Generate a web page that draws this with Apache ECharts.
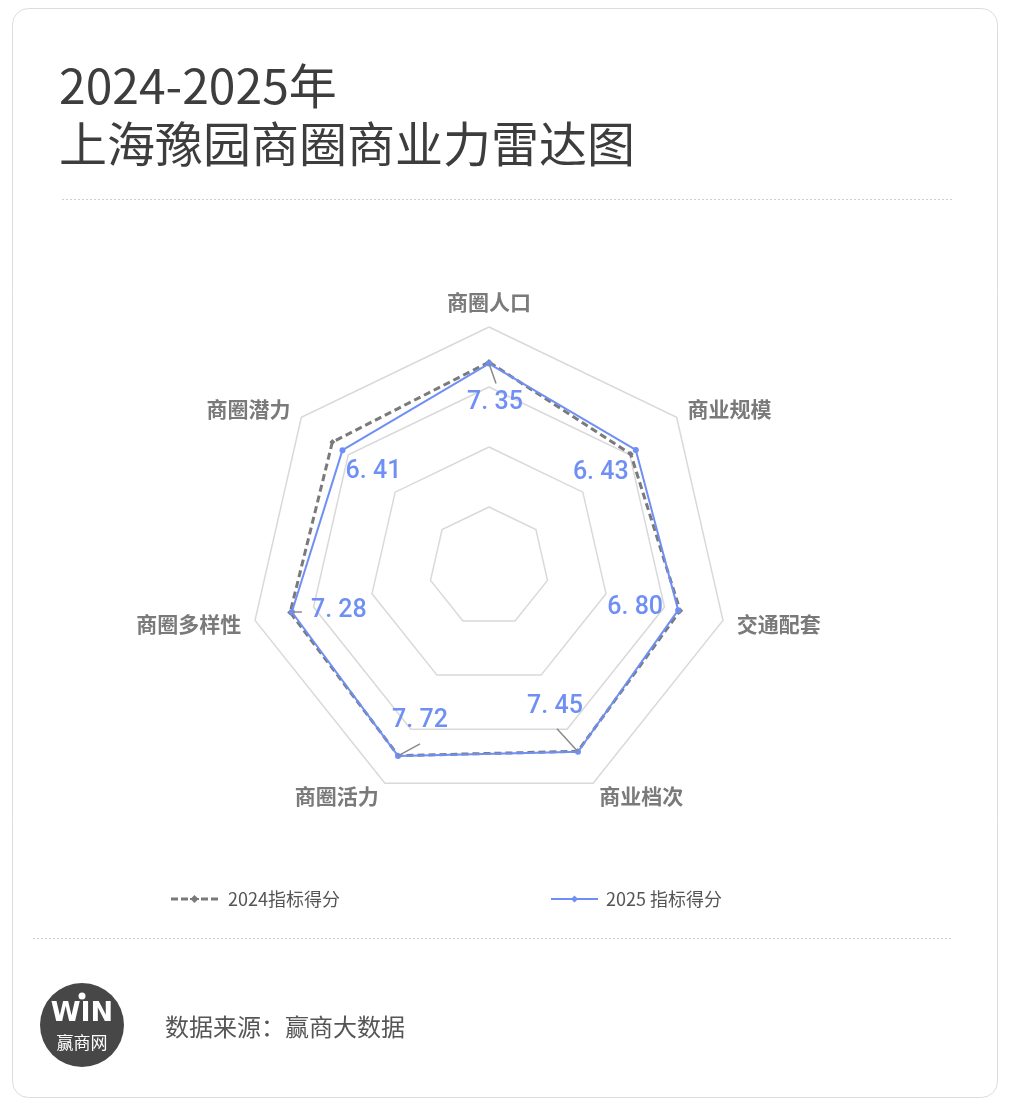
<!DOCTYPE html>
<html>
<head>
<meta charset="utf-8">
<script src="https://cdn.jsdelivr.net/npm/echarts@6/dist/echarts.min.js"></script>
<style>
html,body{margin:0;padding:0;background:#fff;}
#chart{width:1010px;height:1116px;}
</style>
</head>
<body>
<div id="chart"></div>
<script>
// ---- data (clockwise order starting from the top) ----
const categories = ['商圈人口', '商业规模', '交通配套', '商业档次', '商圈活力', '商圈多样性', '商圈潜力'];
const values2024 = [7.44, 6.05, 6.92, 7.42, 7.70, 7.38, 7.17];
const values2025 = [7.35, 6.43, 6.80, 7.45, 7.72, 7.28, 6.41];
const seriesNames = ['2024指标得分', '2025 指标得分'];
const titleText = '2024-2025年\n上海豫园商圈商业力雷达图';
const sourceText = '数据来源：赢商大数据';

// ---- scale & styling ----
const RMIN = -4.6, RMAX = 9.5;
const CENTER = [489, 567], RADIUS = 240;
const BLUE = '#6f8ff5', GRAY = '#7a7a7a';
// label offsets (px) relative to each 2025 point, and leader-line ends
const labelOffsets = [[6, 39], [-35, 23], [-43, -2], [-23, -45], [22, -35], [47, -1], [31, 22]];
const leaderEnds = [[7, 20], null, null, [-21, -23], [22, -12], [10, 0], null];

// ECharts radar lays indicators out counter-clockwise: reorder
const n = categories.length;
const ccw = [0].concat(Array.from({length: n - 1}, (_, k) => n - 1 - k));
const indicator = ccw.map(i => ({name: categories[i], min: RMIN, max: RMAX}));
const reorder = arr => ccw.map(i => arr[i]);

const fmt = v => v.toFixed(2).replace('.', '. ');

const dashIcon = 'path://M0 2.5h7v3h-7z M10 2.5h7v3h-7z M30 2.5h7v3h-7z M40 2.5h7v3h-7z M19 3h9v2h-9z M23.5 0L27.5 4L23.5 8L19.5 4z';
const solidIcon = 'path://M0 3h47v2h-47z M23.5 0.5L27 4L23.5 7.5L20 4z';

const chart = echarts.init(document.getElementById('chart'));
chart.setOption({
  backgroundColor: '#fff',
  animation: false,
  title: {
    text: titleText,
    left: 54, top: 52,
    textStyle: {fontSize: 48, lineHeight: 58, fontWeight: 'normal', color: '#3d3d3d', fontFamily: 'Noto Sans CJK SC'}
  },
  legend: [
    {
      data: [{name: seriesNames[0], icon: dashIcon}],
      left: 171, top: 890, padding: 0, itemWidth: 47, itemHeight: 8, itemGap: 0,
      textStyle: {fontSize: 18, color: '#555', fontFamily: 'Noto Sans CJK SC', padding: [0, 0, 0, 5]}
    },
    {
      data: [{name: seriesNames[1], icon: solidIcon}],
      left: 551, top: 890, padding: 0, itemWidth: 47, itemHeight: 8, itemGap: 0,
      textStyle: {fontSize: 18, color: '#555', fontFamily: 'Noto Sans CJK SC', padding: [0, 0, 0, 3]}
    }
  ],
  radar: {
    center: CENTER, radius: RADIUS, startAngle: 90, shape: 'polygon', splitNumber: 4,
    indicator: indicator,
    nameGap: 14,
    axisName: {color: GRAY, fontSize: 21, fontWeight: 'bold', fontFamily: 'Noto Sans CJK SC'},
    splitLine: {lineStyle: {color: '#d9d9d9', width: 1.5}},
    splitArea: {show: false},
    axisLine: {show: false},
    axisTick: {show: false},
    axisLabel: {show: false}
  },
  polar: {center: CENTER, radius: RADIUS},
  radiusAxis: {min: RMIN, max: RMAX, show: false, axisLine: {show: false}, splitLine: {show: false}, axisLabel: {show: false}, axisTick: {show: false}},
  angleAxis: {type: 'value', min: 0, max: n, startAngle: 90, clockwise: true, show: false, axisLine: {show: false}, splitLine: {show: false}, axisLabel: {show: false}, axisTick: {show: false}},
  series: [
    {
      type: 'radar', name: seriesNames[0], z: 2,
      symbol: 'diamond', symbolSize: 6,
      itemStyle: {color: GRAY},
      lineStyle: {color: GRAY, width: 3, type: [7, 4]},
      data: [{name: seriesNames[0], value: reorder(values2024)}]
    },
    {
      type: 'radar', name: seriesNames[1], z: 3,
      symbol: 'circle', symbolSize: 6,
      itemStyle: {color: BLUE},
      lineStyle: {color: BLUE, width: 2},
      data: [{name: seriesNames[1], value: reorder(values2025)}]
    },
    {
      type: 'custom', coordinateSystem: 'polar', z: 5, silent: true,
      data: values2025.map((v, i) => [v, i]),
      renderItem: function (params, api) {
        const v = api.value(0), i = api.value(1);
        const p = api.coord([v, i]);
        const off = labelOffsets[i];
        const children = [];
        const le = leaderEnds[i];
        if (le) {
          children.push({type: 'line', shape: {x1: p[0], y1: p[1], x2: p[0] + le[0], y2: p[1] + le[1]},
            style: {stroke: '#8a8a8a', lineWidth: 1.5}});
        }
        children.push({type: 'text', x: p[0] + off[0], y: p[1] + off[1],
          style: {text: fmt(v), fill: BLUE, fontSize: 25, fontWeight: 500, fontFamily: 'Roboto', align: 'center', verticalAlign: 'middle'}});
        return {type: 'group', children: children};
      }
    }
  ],
  graphic: [
    {type: 'rect', z: -10, shape: {x: 12.5, y: 8.5, width: 985, height: 1089, r: 16}, style: {fill: '#fff', stroke: '#dcdcdc', lineWidth: 1}},
    {type: 'line', shape: {x1: 62, y1: 199.5, x2: 952, y2: 199.5}, style: {stroke: '#d0d0d0', lineWidth: 1, lineDash: [2, 2]}},
    {type: 'line', shape: {x1: 33, y1: 938.5, x2: 952, y2: 938.5}, style: {stroke: '#d0d0d0', lineWidth: 1, lineDash: [2, 2]}},
    {type: 'circle', shape: {cx: 82, cy: 1025, r: 42}, style: {fill: '#474747'}},
    {type: 'text', x: 82, y: 1014, style: {text: 'WIN', fill: '#fff', fontSize: 27, fontWeight: 900, fontFamily: 'DejaVu Sans', align: 'center', verticalAlign: 'middle'}},
    {type: 'circle', shape: {cx: 82, cy: 996, r: 3.5}, style: {fill: '#fff'}},
    {type: 'text', x: 82, y: 1043, style: {text: '赢商网', fill: '#fff', fontSize: 17, fontFamily: 'Noto Sans CJK SC', align: 'center', verticalAlign: 'middle'}},
    {type: 'text', x: 165, y: 1027, style: {text: sourceText, fill: '#555', fontSize: 24, fontFamily: 'Noto Sans CJK SC', align: 'left', verticalAlign: 'middle'}}
  ]
});
</script>
</body>
</html>
